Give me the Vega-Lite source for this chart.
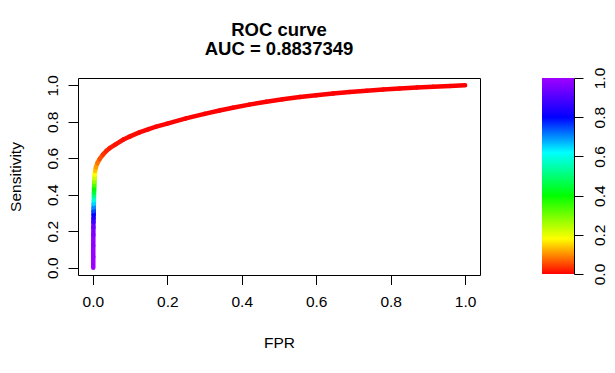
{
  "$schema": "https://vega.github.io/schema/vega-lite/v6.json",
  "padding": {"left": 7, "top": 20, "right": 5, "bottom": 5},
  "background": "white",
  "bounds": "flush",
  "spacing": 62,
  "config": {
    "font": "Liberation Sans",
    "view": {"stroke": "#000", "strokeWidth": 1},
    "axis": {
      "grid": false,
      "labelFontSize": 15.5,
      "titleFontSize": 15.5,
      "titleFontWeight": "normal",
      "labelColor": "#000",
      "titleColor": "#000",
      "tickColor": "#000",
      "domainColor": "#000",
      "labelFlush": false,
      "labelOverlap": false
    }
  },
  "resolve": {"scale": {"color": "independent"}},
  "hconcat": [
    {
      "width": 402,
      "height": 197,
      "title": {
        "text": ["ROC curve", "AUC = 0.8837349"],
        "fontSize": 18.5,
        "fontWeight": "bold",
        "lineHeight": 19,
        "offset": 16,
        "color": "#000"
      },
      "data": {
        "values": [
          {"fpr": 0.001, "tpr": 0.0, "threshold": 1.0},
          {"fpr": 0.001, "tpr": 0.06, "threshold": 0.99},
          {"fpr": 0.001, "tpr": 0.12, "threshold": 0.98},
          {"fpr": 0.0012, "tpr": 0.18, "threshold": 0.96},
          {"fpr": 0.0014, "tpr": 0.22, "threshold": 0.93},
          {"fpr": 0.0015, "tpr": 0.25, "threshold": 0.88},
          {"fpr": 0.0017, "tpr": 0.27, "threshold": 0.84},
          {"fpr": 0.002, "tpr": 0.29, "threshold": 0.8},
          {"fpr": 0.002, "tpr": 0.31, "threshold": 0.75},
          {"fpr": 0.0022, "tpr": 0.33, "threshold": 0.7},
          {"fpr": 0.0024, "tpr": 0.35, "threshold": 0.65},
          {"fpr": 0.0026, "tpr": 0.37, "threshold": 0.59},
          {"fpr": 0.0028, "tpr": 0.39, "threshold": 0.52},
          {"fpr": 0.003, "tpr": 0.41, "threshold": 0.45},
          {"fpr": 0.0033, "tpr": 0.43, "threshold": 0.4},
          {"fpr": 0.0036, "tpr": 0.45, "threshold": 0.33},
          {"fpr": 0.004, "tpr": 0.47, "threshold": 0.27},
          {"fpr": 0.0045, "tpr": 0.49, "threshold": 0.22},
          {"fpr": 0.005, "tpr": 0.51, "threshold": 0.18},
          {"fpr": 0.006, "tpr": 0.53, "threshold": 0.14},
          {"fpr": 0.008, "tpr": 0.55, "threshold": 0.11},
          {"fpr": 0.012, "tpr": 0.573, "threshold": 0.08},
          {"fpr": 0.018, "tpr": 0.595, "threshold": 0.055},
          {"fpr": 0.027, "tpr": 0.62, "threshold": 0.035},
          {"fpr": 0.036, "tpr": 0.64, "threshold": 0.025},
          {"fpr": 0.045, "tpr": 0.655, "threshold": 0.018},
          {"fpr": 0.06, "tpr": 0.675, "threshold": 0.012},
          {"fpr": 0.082, "tpr": 0.703, "threshold": 0.008},
          {"fpr": 0.1, "tpr": 0.72, "threshold": 0.006},
          {"fpr": 0.125, "tpr": 0.742, "threshold": 0.004},
          {"fpr": 0.15, "tpr": 0.76, "threshold": 0.003},
          {"fpr": 0.17, "tpr": 0.773, "threshold": 0.0025},
          {"fpr": 0.2, "tpr": 0.79, "threshold": 0.002},
          {"fpr": 0.25, "tpr": 0.8185, "threshold": 0.0016},
          {"fpr": 0.3, "tpr": 0.8435, "threshold": 0.001},
          {"fpr": 0.34, "tpr": 0.862, "threshold": 0.0008},
          {"fpr": 0.376, "tpr": 0.877, "threshold": 0.0006},
          {"fpr": 0.42, "tpr": 0.894, "threshold": 0.0005},
          {"fpr": 0.466, "tpr": 0.9095, "threshold": 0.0004},
          {"fpr": 0.51, "tpr": 0.923, "threshold": 0.0003},
          {"fpr": 0.556, "tpr": 0.9355, "threshold": 0.0002},
          {"fpr": 0.6, "tpr": 0.946, "threshold": 0.00015},
          {"fpr": 0.645, "tpr": 0.9555, "threshold": 0.0001},
          {"fpr": 0.69, "tpr": 0.9635, "threshold": 0.00008},
          {"fpr": 0.735, "tpr": 0.9705, "threshold": 0.00006},
          {"fpr": 0.78, "tpr": 0.977, "threshold": 0.00004},
          {"fpr": 0.824, "tpr": 0.982, "threshold": 0.00003},
          {"fpr": 0.87, "tpr": 0.9875, "threshold": 0.00002},
          {"fpr": 0.914, "tpr": 0.9925, "threshold": 0.00001},
          {"fpr": 0.96, "tpr": 0.9965, "threshold": 0.000005},
          {"fpr": 1.0, "tpr": 1.0, "threshold": 0.0}
        ]
      },
      "transform": [
        {
          "window": [
            {"op": "lead", "field": "fpr", "as": "fpr2"},
            {"op": "lead", "field": "tpr", "as": "tpr2"}
          ],
          "sort": [{"field": "tpr"}, {"field": "fpr"}]
        },
        {"filter": "datum.fpr2 != null"}
      ],
      "mark": {"type": "rule", "strokeWidth": 4.5, "strokeCap": "round"},
      "encoding": {
        "x": {
          "field": "fpr",
          "type": "quantitative",
          "scale": {"domain": [-0.04, 1.04], "nice": false, "zero": false},
          "axis": {
            "values": [0, 0.2, 0.4, 0.6, 0.8, 1],
            "format": ".1f",
            "title": "FPR",
            "domain": false,
            "tickSize": 9.5,
            "labelPadding": 10,
            "titlePadding": 25
          }
        },
        "x2": {"field": "fpr2"},
        "y": {
          "field": "tpr",
          "type": "quantitative",
          "scale": {"domain": [-0.04, 1.04], "nice": false, "zero": false},
          "axis": {
            "values": [0, 0.2, 0.4, 0.6, 0.8, 1],
            "format": ".1f",
            "title": "Sensitivity",
            "domain": false,
            "tickSize": 10,
            "labelAngle": -90,
            "labelAlign": "center",
            "labelBaseline": "bottom",
            "labelPadding": 8,
            "titlePadding": 22
          }
        },
        "y2": {"field": "tpr2"},
        "color": {
          "field": "threshold",
          "type": "quantitative",
          "scale": {
            "domain": [0, 0.18, 0.4, 0.62, 0.8, 1],
            "range": ["#FF0000", "#FFFF00", "#00FF00", "#00FFFF", "#0000FF", "#A000FF"],
            "interpolate": "rgb"
          },
          "legend": null
        }
      }
    },
    {
      "width": 32,
      "height": 196,
      "view": {"stroke": null},
      "data": {"values": [{"lo": 0, "hi": 1}]},
      "mark": {
        "type": "rect",
        "color": {
          "gradient": "linear",
          "x1": 0, "y1": 1, "x2": 0, "y2": 0,
          "stops": [
            {"offset": 0, "color": "#FF0000"},
            {"offset": 0.18, "color": "#FFFF00"},
            {"offset": 0.4, "color": "#00FF00"},
            {"offset": 0.62, "color": "#00FFFF"},
            {"offset": 0.8, "color": "#0000FF"},
            {"offset": 1, "color": "#A000FF"}
          ]
        }
      },
      "encoding": {
        "y": {
          "field": "lo",
          "type": "quantitative",
          "scale": {"domain": [0, 1], "nice": false},
          "axis": {
            "orient": "right",
            "values": [0, 0.2, 0.4, 0.6, 0.8, 1],
            "format": ".1f",
            "title": null,
            "domain": true,
            "tickSize": 9,
            "labelAngle": -90,
            "labelAlign": "center",
            "labelBaseline": "top",
            "labelPadding": 9
          }
        },
        "y2": {"field": "hi"}
      }
    }
  ]
}
